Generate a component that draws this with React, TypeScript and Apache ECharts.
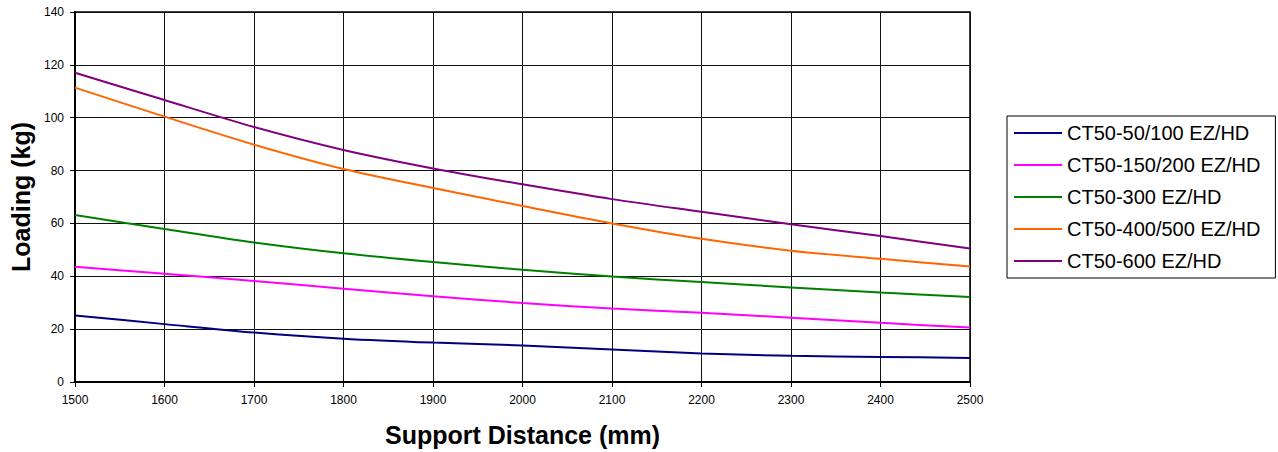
import React, { useEffect, useRef } from "react";
import * as echarts from "echarts";

const distances = [1500, 1600, 1700, 1800, 1900, 2000, 2100, 2200, 2300, 2400, 2500];
const seriesNames = [
  "CT50-50/100 EZ/HD",
  "CT50-150/200 EZ/HD",
  "CT50-300 EZ/HD",
  "CT50-400/500 EZ/HD",
  "CT50-600 EZ/HD",
];
const ct50_100 = [25.2, 21.9, 18.7, 16.4, 14.9, 13.8, 12.3, 10.8, 9.9, 9.5, 9.1];
const ct150_200 = [43.6, 41.0, 38.2, 35.3, 32.4, 29.9, 27.8, 26.2, 24.3, 22.4, 20.6];
const ct300 = [63.2, 57.9, 52.8, 48.7, 45.4, 42.5, 39.9, 37.8, 35.8, 33.9, 32.2];
const ct400_500 = [111.4, 100.4, 89.8, 80.6, 73.4, 66.6, 60.0, 54.2, 49.7, 46.6, 43.7];
const ct600 = [117.0, 106.7, 96.5, 87.8, 80.8, 74.8, 69.2, 64.4, 59.7, 55.2, 50.5];
const colors = ["#000080", "#ff00ff", "#008000", "#ff6600", "#800080"];

const allValues = [ct50_100, ct150_200, ct300, ct400_500, ct600];

export default function App() {
  const ref = useRef<HTMLDivElement>(null);
  useEffect(() => {
    document.body.style.margin = "0";
    if (!ref.current) return;
    const chart = echarts.init(ref.current, undefined, { renderer: "svg" });
    const font = "'Liberation Sans', Arial, sans-serif";
    chart.setOption({
      animation: false,
      backgroundColor: "#ffffff",
      textStyle: { fontFamily: font },
      grid: {
        left: 75,
        right: 308,
        top: 12,
        bottom: 70,
        show: true,
        borderColor: "#000",
        borderWidth: 1.5,
      },
      legend: {
        orient: "vertical",
        left: 1007,
        top: 116,
        padding: [7, 15, 7, 7],
        itemWidth: 48,
        itemHeight: 14,
        itemGap: 12,
        borderColor: "#000",
        borderWidth: 1,
        textStyle: { fontFamily: font, fontSize: 20, lineHeight: 20, color: "#000" },
        data: seriesNames.map((n) => ({ name: n, icon: "path://M0,0 L48,0 L48,2 L0,2 Z" })),
      },
      xAxis: {
        type: "value",
        min: 1500,
        max: 2500,
        interval: 100,
        name: "Support Distance (mm)",
        nameLocation: "middle",
        nameGap: 40,
        nameTextStyle: { fontFamily: font, fontSize: 25, fontWeight: "bold", color: "#000" },
        axisLine: { show: true, lineStyle: { color: "#000", width: 2 } },
        axisTick: { show: true, length: 5, lineStyle: { color: "#000" } },
        axisLabel: {
          fontFamily: font,
          fontSize: 12,
          color: "#000",
          margin: 12,
          formatter: (v: number) => String(v),
        },
        splitLine: { show: true, lineStyle: { color: "#111", width: 1 } },
      },
      yAxis: {
        type: "value",
        min: 0,
        max: 140,
        interval: 20,
        name: "Loading (kg)",
        nameLocation: "middle",
        nameGap: 40,
        nameTextStyle: { fontFamily: font, fontSize: 25, fontWeight: "bold", color: "#000" },
        axisLine: { show: true, lineStyle: { color: "#000", width: 2 } },
        axisTick: { show: true, length: 5, lineStyle: { color: "#000" } },
        axisLabel: { fontFamily: font, fontSize: 12, color: "#000", margin: 11 },
        splitLine: { show: true, lineStyle: { color: "#111", width: 1 } },
      },
      series: seriesNames.map((name, i) => ({
        name,
        type: "line",
        data: distances.map((d, j) => [d, allValues[i][j]]),
        smooth: 0.3,
        symbol: "none",
        showSymbol: false,
        lineStyle: { color: colors[i], width: 2 },
        itemStyle: { color: colors[i] },
      })),
    });
    return () => chart.dispose();
  }, []);
  return <div ref={ref} style={{ width: 1278, height: 452 }} />;
}
